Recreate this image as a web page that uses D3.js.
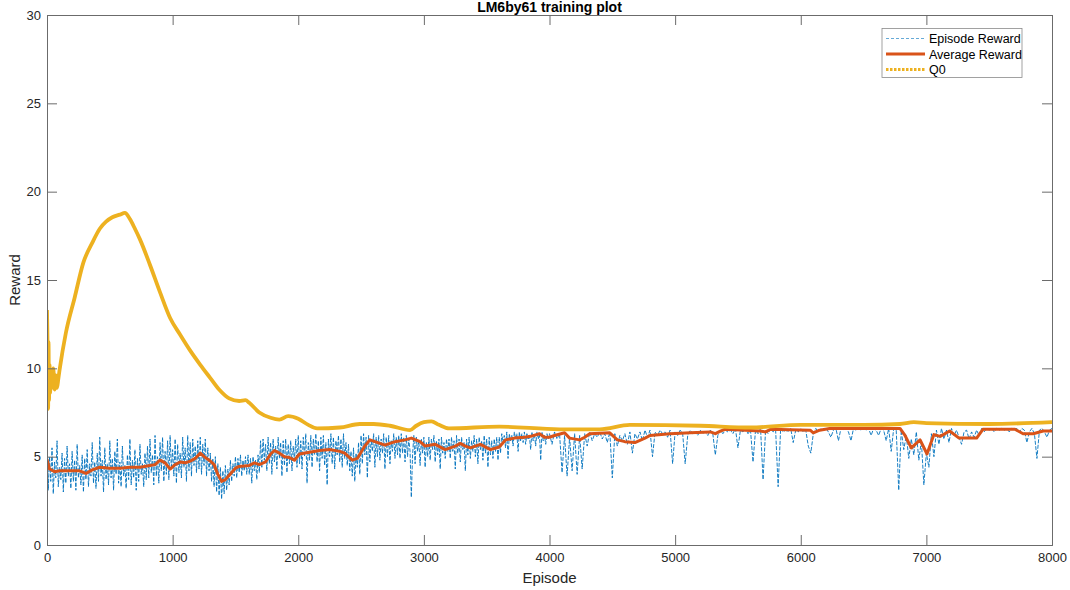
<!DOCTYPE html>
<html>
<head>
<meta charset="utf-8">
<script src="https://cdn.jsdelivr.net/npm/d3@7"></script>
<style>
  html, body { margin: 0; padding: 0; background: #fff; }
  svg { display: block; font-family: "Liberation Sans", Arial, Helvetica, sans-serif; }
</style>
</head>
<body>
<svg id="chart" width="1070" height="590"></svg>
<script>
// ---------------- data ----------------
const title = "LM6by61 training plot";
const xLabel = "Episode";
const yLabel = "Reward";
const xTicks = [0, 1000, 2000, 3000, 4000, 5000, 6000, 7000, 8000];
const yTicks = [0, 5, 10, 15, 20, 25, 30];
const legendLabels = ["Episode Reward", "Average Reward", "Q0"];

// Episode reward, episodes 0..3990 sampled every 10 episodes
const rewardEarlyStep = 10;
const episodeRewardEarly = [
  5.8,3.1,5.0,3.6,5.5,2.9,4.7,3.8,5.9,3.3, 4.4,3.7,5.2,3.0,4.9,3.5,5.6,3.9,4.6,3.2, 5.3,3.6,4.8,3.1,5.7,3.8,4.5,3.4,5.1,3.0, 4.9,3.7,5.4,3.3,4.6,3.9,5.8,3.5,4.7,3.2,
  5.2,3.6,6.1,3.9,4.8,3.0,5.5,3.7,4.6,3.4, 5.9,3.8,4.9,3.1,5.3,4.0,6.0,3.5,4.7,3.3, 5.6,3.9,4.5,3.2,5.1,3.7,6.0,3.4,4.8,3.8, 5.4,3.1,4.9,3.6,5.7,4.0,4.6,3.3,5.2,3.7,
  5.6,3.8,6.0,4.1,5.1,3.4,6.2,3.9,5.0,3.5, 5.8,4.2,6.1,3.6,5.3,4.0,5.9,3.7,6.2,4.3, 5.4,3.9,6.0,3.5,5.7,4.1,5.2,3.8,6.1,4.4, 5.5,3.6,6.2,4.2,5.8,3.9,6.0,4.5,5.6,4.1,
  5.9,4.3,6.1,4.0,5.7,4.5,6.0,3.9,5.5,4.2, 5.2,3.6,4.9,3.3,5.0,3.0,4.6,2.8,4.4,2.6, 4.2,2.9,4.5,3.1,4.3,3.4,4.8,3.6,4.6,3.9, 5.0,3.8,4.9,4.1,5.1,3.9,4.8,4.2,5.0,4.0,
  5.1,4.0,4.9,3.5,5.0,4.2,4.8,3.7,5.1,4.1, 5.9,4.4,6.0,4.8,5.7,4.2,6.1,4.6,5.8,4.0, 6.0,4.7,5.6,4.3,6.1,4.9,5.8,3.9,5.9,4.5, 6.0,4.1,5.7,4.6,5.9,4.2,5.6,4.8,6.0,4.4,
  6.2,4.6,5.9,4.3,6.1,5.0,6.3,3.5,5.8,4.8, 6.2,4.4,6.0,5.1,6.3,4.7,5.9,4.2,6.1,4.9, 6.2,4.5,5.8,3.4,6.0,5.0,6.3,4.6,6.1,4.3, 5.9,5.1,6.2,4.7,6.0,4.4,6.3,4.9,5.8,4.5,
  5.7,4.2,5.3,3.9,5.5,3.6,5.2,4.4,5.8,4.0, 6.2,4.6,6.3,5.1,6.1,3.8,6.2,4.7,6.0,5.3, 6.3,4.4,6.1,5.0,6.2,4.8,6.0,5.2,6.3,4.3, 6.1,5.0,6.2,4.6,5.9,5.3,6.3,4.9,6.1,5.1,
  6.2,4.9,6.3,5.2,6.1,4.7,6.2,5.0,6.0,5.3, 2.7,5.1,6.2,4.6,6.1,5.3,5.9,4.5,6.0,5.2, 6.1,4.4,5.8,5.0,6.1,4.8,6.0,5.4,6.2,4.7, 5.9,5.1,6.0,4.3,6.1,5.2,5.8,4.9,6.0,5.3,
  6.0,4.9,6.1,5.3,5.9,4.3,6.2,5.2,6.0,4.7, 6.1,5.4,5.8,4.2,6.0,5.1,6.1,4.9,5.9,5.3, 6.2,5.0,6.0,4.6,6.1,5.4,5.9,4.8,6.2,5.2, 6.0,4.4,6.1,5.1,5.9,4.9,6.0,5.3,6.1,4.8,
  6.1,5.2,6.3,5.8,6.2,5.5,6.4,4.9,6.3,5.9, 6.2,5.6,6.4,6.0,6.3,5.3,6.4,5.9,6.3,5.8, 6.4,5.7,6.3,6.0,6.2,5.4,6.4,5.9,6.3,5.6, 6.4,6.0,6.3,4.8,6.4,5.9,6.2,5.7,6.3,6.0
];

// Episode reward, episodes 4000..8000 sampled every 20 episodes
const rewardLateStart = 4000;
const rewardLateStep = 20;
const episodeRewardLate = [
  6.3,5.7,6.4,6.0,6.3,4.1,6.2,3.9,6.1,4.2,6.3,4.0,6.2,4.3,6.3,5.6,6.4,5.9,6.3,6.1,
  6.4,6.0,6.3,5.8,6.4,3.8,6.3,5.6,6.2,5.9,6.3,5.7,6.4,5.2,6.3,6.0,6.4,5.9,6.5,6.1,
  6.5,5.0,6.4,6.2,6.5,6.3,6.4,6.1,6.5,4.6,6.4,6.2,6.5,6.3,4.6,6.2,6.5,6.3,6.4,6.2,
  6.5,6.3,6.4,6.2,6.5,6.3,5.1,6.2,6.5,6.3,6.5,6.4,6.5,6.3,6.6,5.5,6.5,6.4,6.6,6.3,
  6.5,4.7,6.5,6.3,6.6,3.7,6.5,6.3,6.6,6.4,6.5,3.3,6.6,6.4,6.5,6.4,6.6,5.8,6.5,6.4,
  6.6,6.4,6.5,5.6,5.2,6.3,6.6,6.4,6.6,6.5,6.6,6.4,6.1,6.5,6.6,5.9,6.6,6.5,6.6,6.4,
  5.9,6.6,6.5,6.6,6.5,6.6,6.5,6.6,6.2,6.6,6.5,6.2,6.6,6.5,5.9,6.6,5.3,6.6,6.5,3.1,
  6.5,5.4,6.2,4.9,6.0,5.1,6.4,4.8,5.9,3.4,5.2,4.4,6.3,5.0,6.5,5.7,6.6,6.0,6.5,5.8,
  6.6,6.2,6.5,6.1,5.7,6.4,6.5,6.0,6.4,6.1,6.5,6.2,6.6,6.4,6.6,6.5,6.6,6.4,6.6,6.5,
  6.6,6.5,6.6,6.4,6.6,6.5,6.6,6.4,6.6,6.5,5.8,6.4,6.6,6.3,4.9,6.5,6.6,6.4,6.1,6.5,
  6.6
];

// Average reward
const avgEpisodes = [0,20,60,100,180,260,310,360,420,500,580,660,740,820,860,900,940,980,1020,1060,
  1100,1140,1180,1220,1260,1300,1330,1360,1390,1420,1450,1500,1530,1610,1650,1690,1740,1780,1810,1850,
  1890,1930,1970,2010,2090,2170,2250,2330,2370,2430,2470,2530,2570,2650,2690,2770,2850,2900,2970,3010,
  3090,3170,3250,3290,3330,3370,3450,3530,3600,3650,3720,3800,3850,3920,3960,4000,4040,4120,4160,4240,
  4280,4320,4480,4540,4600,4680,4760,4800,4960,5120,5280,5320,5360,5400,5680,5720,5760,6075,6100,6150,
  6230,6790,6830,6880,6950,7005,7060,7110,7185,7260,7400,7450,7705,7770,7850,7930,8000];
const avgValues = [4.85,4.3,4.15,4.2,4.2,4.2,4.05,4.25,4.4,4.35,4.35,4.4,4.4,4.5,4.55,4.8,4.65,4.3,4.55,4.7,
  4.65,4.75,4.9,5.2,4.95,4.75,4.55,4.0,3.6,3.7,3.95,4.35,4.45,4.5,4.65,4.55,4.7,5.15,5.35,5.2,
  5.0,4.95,4.8,5.15,5.25,5.35,5.4,5.3,5.2,4.8,4.9,5.6,5.95,5.75,5.65,5.85,5.95,6.05,5.85,5.6,
  5.7,5.4,5.6,5.75,5.6,5.5,5.7,5.4,5.55,5.95,6.05,6.1,6.15,6.3,6.1,6.1,6.2,6.35,6.05,5.95,
  6.1,6.3,6.35,5.95,5.85,5.8,6.05,6.2,6.3,6.35,6.4,6.3,6.45,6.55,6.45,6.4,6.55,6.5,6.35,6.5,
  6.6,6.6,6.2,5.5,5.95,5.15,6.25,6.15,6.45,6.05,6.05,6.55,6.55,6.3,6.3,6.45,6.45];

// Q0
const q0Episodes = [0,3,6,9,12,16,20,25,30,40,50,60,70,80,90,100,150,220,290,360,
  420,470,520,580,620,660,700,740,820,900,980,1060,1140,1220,1300,1370,1450,1530,1580,1610,
  1690,1780,1850,1920,2000,2080,2150,2330,2490,2600,2730,2890,2940,3000,3060,3120,3200,3600,4080,4400,
  4640,5200,5600,6000,6500,6790,6900,7000,7500,8000];
const q0Values = [13.3,12.0,10.5,7.7,11.5,8.2,10.2,8.6,9.7,8.9,10.0,8.8,9.6,8.9,9.4,9.9,12.0,14.0,16.0,17.1,
  17.9,18.3,18.55,18.7,18.8,18.45,17.9,17.3,15.85,14.3,12.85,11.9,11.0,10.2,9.45,8.8,8.3,8.15,8.2,8.05,
  7.5,7.2,7.1,7.3,7.15,6.8,6.6,6.65,6.85,6.85,6.75,6.5,6.75,6.95,7.0,6.8,6.6,6.7,6.55,6.55,
  6.8,6.75,6.65,6.8,6.8,6.85,6.95,6.9,6.85,6.95];

// ---------------- drawing ----------------
const W = 1070, H = 590;
const m = { left: 47, right: 18, top: 15, bottom: 45 };
const svg = d3.select("#chart");
const pw = W - m.left - m.right, ph = H - m.top - m.bottom;

const x = d3.scaleLinear().domain([0, 8000]).range([m.left, m.left + pw]);
const y = d3.scaleLinear().domain([0, 30]).range([m.top + ph, m.top]);

const colors = { ep: "#0072BD", avg: "#D95319", q0: "#EDB120" };
const axisColor = "#6b6b6b";
const textColor = "#262626";

svg.append("defs").append("clipPath").attr("id", "clip")
  .append("rect").attr("x", m.left).attr("y", m.top).attr("width", pw).attr("height", ph);

const plot = svg.append("g").attr("clip-path", "url(#clip)");

const epData = episodeRewardEarly.map((v, i) => [i * rewardEarlyStep, v])
  .concat(episodeRewardLate.map((v, i) => [rewardLateStart + i * rewardLateStep, v]));
const avgData = avgEpisodes.map((e, i) => [e, avgValues[i]]);
const q0Data = q0Episodes.map((e, i) => [e, q0Values[i]]);

const line = d3.line().x(d => x(d[0])).y(d => y(d[1]));

plot.append("path").datum(epData)
  .attr("d", line).attr("fill", "none")
  .attr("stroke", colors.ep).attr("stroke-width", 0.9)
  .attr("stroke-dasharray", "4,1.5");

plot.append("path").datum(avgData)
  .attr("d", line).attr("fill", "none")
  .attr("stroke", colors.avg).attr("stroke-width", 3)
  .attr("stroke-linejoin", "round");

plot.append("path").datum(q0Data)
  .attr("d", d3.line().x(d => x(d[0])).y(d => y(d[1])).curve(d3.curveMonotoneX)).attr("fill", "none")
  .attr("stroke", colors.q0).attr("stroke-width", 3.8)
  .attr("stroke-linejoin", "round");

// Axes (MATLAB box style, inward ticks)
const xAxisB = d3.axisBottom(x).tickValues(xTicks).tickSize(-10).tickPadding(8).tickFormat(d3.format("d"));
const xAxisT = d3.axisTop(x).tickValues(xTicks).tickSize(-10).tickFormat("");
const yAxisL = d3.axisLeft(y).tickValues(yTicks).tickSize(-10).tickPadding(6).tickFormat(d3.format("d"));
const yAxisR = d3.axisRight(y).tickValues(yTicks).tickSize(-10).tickFormat("");

function style(g) {
  g.selectAll(".domain").attr("stroke", axisColor).attr("stroke-width", 1);
  g.selectAll(".tick line").attr("stroke", axisColor).attr("stroke-width", 1);
  g.selectAll(".tick text").attr("fill", textColor).style("font-size", "13px")
    .style("font-family", "'Liberation Sans', Arial, sans-serif");
}
svg.append("g").attr("transform", `translate(0,${m.top + ph})`).call(xAxisB).call(style);
svg.append("g").attr("transform", `translate(0,${m.top})`).call(xAxisT).call(style);
svg.append("g").attr("transform", `translate(${m.left},0)`).call(yAxisL).call(style);
svg.append("g").attr("transform", `translate(${m.left + pw},0)`).call(yAxisR).call(style);

// Title and labels
svg.append("text").attr("x", m.left + pw / 2).attr("y", 12)
  .attr("text-anchor", "middle").attr("fill", "#000")
  .style("font-size", "14px").style("font-weight", "bold").text(title);
svg.append("text").attr("x", m.left + pw / 2).attr("y", 583)
  .attr("text-anchor", "middle").attr("fill", textColor)
  .style("font-size", "15px").text(xLabel);
svg.append("text").attr("transform", `translate(20,${m.top + ph / 2}) rotate(-90)`)
  .attr("text-anchor", "middle").attr("fill", textColor)
  .style("font-size", "15px").text(yLabel);

// Legend
const lg = svg.append("g");
const lx = 882, ly = 28.5, lw = 140, lh = 49;
lg.append("rect").attr("x", lx).attr("y", ly).attr("width", lw).attr("height", lh)
  .attr("fill", "#fff").attr("stroke", "#8a8a8a").attr("stroke-width", 0.8);
const legendStyles = [
  { c: colors.ep, w: 1, dash: "3,2", op: 0.6 },
  { c: colors.avg, w: 3, dash: null, op: 1 },
  { c: colors.q0, w: 3, dash: "2.5,1.5", op: 1 }
];
legendLabels.forEach((t, i) => {
  const yy = ly + 10 + i * 15.5;
  const s = legendStyles[i];
  lg.append("line").attr("x1", lx + 4).attr("x2", lx + 43).attr("y1", yy).attr("y2", yy)
    .attr("stroke", s.c).attr("stroke-width", s.w).attr("stroke-opacity", s.op)
    .attr("stroke-dasharray", s.dash);
  lg.append("text").attr("x", lx + 47).attr("y", yy + 4.5).attr("fill", "#000")
    .style("font-size", "12.5px").text(t);
});
</script>
</body>
</html>
